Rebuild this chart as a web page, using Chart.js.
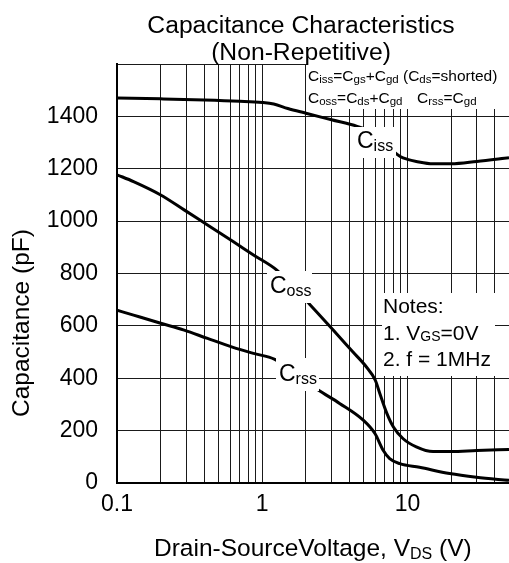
<html>
  <head>
    <meta charset="utf-8" />
    <title>Capacitance Characteristics</title>
    <style>
      body { margin: 0; background: #fff; }
    </style>
  </head>
  <body>
    <canvas id="capChart" width="509" height="563"></canvas>

    <script src="https://cdn.jsdelivr.net/npm/chart.js"></script>
    <script>
      // 讀圖得到的資料 (V_DS in V, capacitance in pF)
      var cissVds = [0.1, 0.2, 0.4, 0.7, 1.0, 1.2, 1.5, 2.0, 3.0, 4.5, 6.0, 7.0, 8.0, 8.9, 10, 11.5, 15, 20, 30, 50];
      var cissPf = [1470, 1467, 1463, 1458, 1453, 1447, 1430, 1412, 1387, 1362, 1335, 1300, 1266, 1247, 1236, 1228, 1219, 1219, 1228, 1242];

      var cossVds = [0.1, 0.13, 0.2, 0.29, 0.42, 0.63, 0.87, 1.26, 2.14, 3.08, 4.2, 5.2, 6.0, 6.45, 7.2, 8.0, 9.3, 11.5, 15, 20, 30, 50];
      var cossPf = [1177, 1151, 1100, 1043, 985, 922, 871, 813, 680, 584, 501, 444, 393, 342, 267, 214, 170, 138, 120, 120, 124, 128];

      var crssVds = [0.1, 0.13, 0.2, 0.29, 0.42, 0.63, 0.87, 1.22, 2.43, 3.41, 4.96, 5.97, 6.8, 7.54, 8.85, 12.1, 19.5, 29.8, 50];
      var crssPf = [660, 641, 610, 584, 552, 518, 495, 472, 355, 304, 240, 189, 125, 93, 74, 60, 36, 22, 10];

      // x 軸格線 / 標籤
      var xGridTicks = [0.1, 0.2, 0.3, 0.4, 0.5, 0.6, 0.7, 0.8, 0.9, 1, 2, 3, 4, 5, 6, 7, 8, 9, 10, 20, 30, 40, 50];
      var xLabelTicks = [0.1, 1, 10];
      var yMax = 1600;
      var yStep = 200;

      var FONT = "'Liberation Sans', Arial, sans-serif";

      function pts(xs, ys) {
        return xs.map(function (v, i) { return { x: v, y: ys[i] }; });
      }

      function lineSet(xs, ys) {
        return {
          data: pts(xs, ys),
          borderColor: "#000",
          borderWidth: 3,
          pointRadius: 0,
          fill: false,
          cubicInterpolationMode: "monotone",
        };
      }

      // 一段段畫，支援下標
      function drawRich(ctx, x, y, parts) {
        parts.forEach(function (p) {
          ctx.font = p[1] + "px " + FONT;
          ctx.fillText(p[0], x, y + (p[2] || 0));
          x += ctx.measureText(p[0]).width;
        });
      }

      var textPlugin = {
        id: "textPlugin",
        beforeDatasetsDraw: function (chart) {
          var ctx = chart.ctx;
          ctx.save();
          ctx.fillStyle = "#fff";
          ctx.fillRect(307, 64, 202, 45); // formula box
          ctx.fillRect(382, 293, 113, 83); // notes box
          ctx.restore();
        },
        afterDatasetsDraw: function (chart) {
          var ctx = chart.ctx;
          ctx.save();
          ctx.fillStyle = "#fff";
          ctx.fillRect(354, 127, 42, 31);
          ctx.fillRect(267, 271, 45, 32);
          ctx.fillRect(276, 358, 43, 33);
          ctx.fillStyle = "#000";
          ctx.textBaseline = "alphabetic";
          ctx.textAlign = "left";

          drawRich(ctx, 357, 148, [["C", 23], ["iss", 16, 3]]);
          drawRich(ctx, 270, 293, [["C", 23], ["oss", 16, 3]]);
          drawRich(ctx, 279, 381, [["C", 23], ["rss", 16, 3]]);

          drawRich(ctx, 308, 81, [["C", 15.5], ["iss", 11.5, 2], ["=C", 15.5], ["gs", 11.5, 2], ["+C", 15.5], ["gd", 11.5, 2], [" (C", 15.5], ["ds", 11.5, 2], ["=shorted)", 15.5]]);
          drawRich(ctx, 308, 103, [["C", 15.5], ["oss", 11.5, 2], ["=C", 15.5], ["ds", 11.5, 2], ["+C", 15.5], ["gd", 11.5, 2]]);
          drawRich(ctx, 417, 103, [["C", 15.5], ["rss", 11.5, 2], ["=C", 15.5], ["gd", 11.5, 2]]);

          drawRich(ctx, 383, 313, [["Notes:", 21]]);
          drawRich(ctx, 383, 340, [["1. V", 21], ["GS", 14, 1], ["=0V", 21]]);
          drawRich(ctx, 383, 366, [["2. f = 1MHz", 21]]);
          ctx.restore();
        },
        afterDraw: function (chart) {
          var ctx = chart.ctx;
          ctx.save();
          ctx.fillStyle = "#000";
          ctx.textBaseline = "alphabetic";
          ctx.textAlign = "center";
          ctx.font = "24.7px " + FONT;
          ctx.fillText("Capacitance Characteristics", 301, 33);
          ctx.fillText("(Non-Repetitive)", 301, 60);

          ctx.textAlign = "left";
          drawRich(ctx, 154, 556, [["Drain-SourceVoltage, V", 24.5], ["DS", 16, 3], [" (V)", 24.5]]);

          ctx.translate(29, 323);
          ctx.rotate(-Math.PI / 2);
          ctx.textAlign = "center";
          ctx.font = "24.5px " + FONT;
          ctx.fillText("Capacitance (pF)", 0, 0);
          ctx.restore();
        },
      };

      var ctx = document.getElementById("capChart").getContext("2d");
      var capChart = new Chart(ctx, {
        type: "line",
        data: {
          datasets: [lineSet(cissVds, cissPf), lineSet(cossVds, cossPf), lineSet(crssVds, crssPf)],
        },
        options: {
          responsive: false,
          animation: false,
          layout: { padding: { top: 64, left: 0, right: 0, bottom: 0 } },
          plugins: {
            legend: { display: false },
            tooltip: { enabled: false },
            title: { display: false },
          },
          scales: {
            x: {
              type: "logarithmic",
              min: 0.1,
              max: 50,
              afterBuildTicks: function (axis) {
                axis.ticks = xGridTicks.map(function (v) { return { value: v }; });
              },
              afterFit: function (axis) {
                axis.height = 80;
                axis.paddingRight = 0;
              },
              grid: { color: "#1a1a1a", lineWidth: 1, drawTicks: false },
              border: { color: "#000", width: 2 },
              ticks: {
                autoSkip: false,
                maxRotation: 0,
                padding: 8,
                color: "#000",
                font: { family: FONT, size: 23 },
                callback: function (value) {
                  return xLabelTicks.indexOf(value) >= 0 ? String(value) : "";
                },
              },
            },
            y: {
              min: 0,
              max: yMax,
              afterFit: function (axis) { axis.width = 117; },
              grid: { color: "#1a1a1a", lineWidth: 1, drawTicks: false },
              border: { color: "#000", width: 2 },
              ticks: {
                stepSize: yStep,
                padding: 19,
                color: "#000",
                font: { family: FONT, size: 23 },
                callback: function (value) {
                  return value >= yMax ? "" : String(value);
                },
              },
            },
          },
        },
        plugins: [textPlugin],
      });
    </script>
  </body>
</html>
